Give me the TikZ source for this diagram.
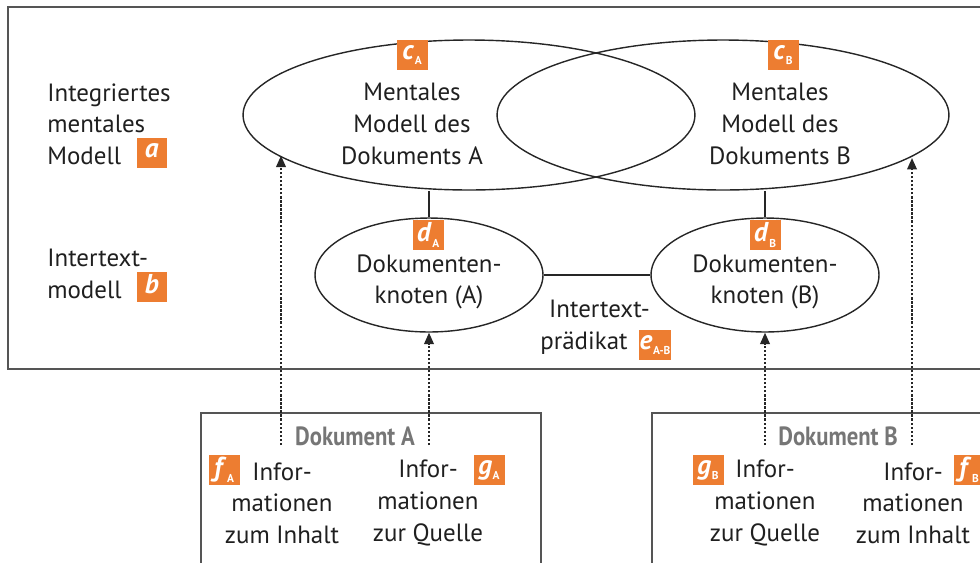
\documentclass[tikz,border=0pt]{standalone}
\usepackage{fontspec}
\setmainfont{PT Sans}
\newfontfamily\doccond[FakeStretch=0.86]{PT Sans}
\usetikzlibrary{shapes.geometric,arrows.meta,positioning}
\definecolor{tagorange}{RGB}{237,125,49}
\definecolor{docgray}{RGB}{118,118,118}
\definecolor{linegray}{RGB}{85,85,85}
\newcommand{\mk}[2]{\textbf{\textit{#1}}\kern0.3pt\raisebox{-0.4ex}{\fontsize{6.5}{7}\selectfont\bfseries #2}}

\begin{document}
\begin{tikzpicture}[x=0.02cm,y=-0.02cm,>={Triangle[width=5.5pt,length=6.5pt]},
    font=\fontsize{14.2}{18}\selectfont,text=black!88]
  \tikzstyle{frame}=[draw=linegray,line width=0.8pt]
  \tikzstyle{model}=[ellipse,draw=black!85,line width=0.8pt,inner sep=0pt,
                     minimum width=9.04cm,minimum height=3cm]
  \tikzstyle{small model}=[model,minimum width=4.56cm,minimum height=2.28cm]
  \tikzstyle{tagbox}=[rectangle,fill=tagorange,text=white,inner sep=0pt,
                      minimum width=0.62cm,minimum height=0.6cm,
                      font=\fontsize{15.5}{16}\selectfont]
  \tikzstyle{txt}=[align=center,inner sep=0pt]
  \tikzstyle{doc title}=[inner sep=0pt,text=docgray,
                         font=\fontsize{15}{16}\selectfont\doccond\bfseries]
  \tikzstyle{source}=[->,black!85,line width=1pt,dash pattern=on 1.3pt off 1pt]
  \useasboundingbox (0,0) rectangle (980,562);
  \clip (0,0) rectangle (980,562);

  % frames
  \draw[frame] (8,7) rectangle (1000,369);
  \draw[frame] (201,413) rectangle (541,600);
  \draw[frame] (652,413) rectangle (1000,600);

  % mental models
  \node[model] (mA) at (469,115) {};
  \node[model] (mB) at (723,115) {};
  \node[txt] (tA) at (412,124) {Mentales\\Modell des\\Dokuments A};
  \node[txt] (tB) at (780,124) {Mentales\\Modell des\\Dokuments B};
  \node[tagbox] (cA) at (412,55) {\mk{c}{A}};
  \node[tagbox] (cB) at (783,55) {\mk{c}{B}};

  % document nodes
  \node[small model] (kA) at (429,275) {};
  \node[small model] (kB) at (765,275) {};
  \node[txt] (tkA) at (429,282) {Dokumenten-\\knoten (A)};
  \node[txt] (tkB) at (765,282) {Dokumenten-\\knoten (B)};
  \node[tagbox] (dA) at (428,235) {\mk{d}{A}};
  \node[tagbox] (dB) at (765,235) {\mk{d}{B}};
  \draw[line width=0.8pt,black!85] (kA) -- (kB);
  \draw[line width=0.8pt,black!85] (kA) -- (kA |- mA.south);
  \draw[line width=0.8pt,black!85] (kB) -- (kB |- mB.south);
  \node[txt,align=left,anchor=west] (pred) at (540,327) {\hspace*{5pt}Intertext-\\prädikat};
  \node[tagbox,minimum width=0.64cm] (eAB) at (655,345) {\mk{e}{A-B}};

  % levels
  \node[txt,align=left,anchor=west] (lvlA) at (47,124) {Integriertes\\mentales\\Modell};
  \node[tagbox] (a) at (152,153) {\mk{a}{}};
  \node[txt,align=left,anchor=west] (lvlB) at (47,274) {Intertext-\\modell};
  \node[tagbox] (b) at (152,287) {\mk{b}{}};

  % document A
  \node[doc title] (docA) at (355,436) {Dokument A};
  \node[txt] (iA1) at (282,503) {Infor-\\mationen\\zum Inhalt};
  \node[txt] (iA2) at (428,503) {Infor-\\mationen\\zur Quelle};
  \node[tagbox] (fA) at (224,470) {\mk{f}{A}};
  \node[tagbox] (gA) at (489,470) {\mk{g}{A}};

  % document B
  \node[doc title] (docB) at (838,436) {Dokument B};
  \node[txt] (iB1) at (765,503) {Infor-\\mationen\\zur Quelle};
  \node[txt] (iB2) at (913,503) {Infor-\\mationen\\zum Inhalt};
  \node[tagbox] (gB) at (708,470) {\mk{g}{B}};
  \node[tagbox] (fB) at (969,470) {\mk{f}{B}};

  % sources
  \coordinate (sA1) at (281,445);
  \coordinate (sA2) at (429,445);
  \coordinate (sB1) at (765,445);
  \coordinate (sB2) at (912,445);
  \draw[source] (sA1) -- (sA1 |- mA.192.6);
  \draw[source] (sA2) -- (kA.south);
  \draw[source] (sB1) -- (kB.south);
  \draw[source] (sB2) -- (sB2 |- mB.347.5);
\end{tikzpicture}
\end{document}
